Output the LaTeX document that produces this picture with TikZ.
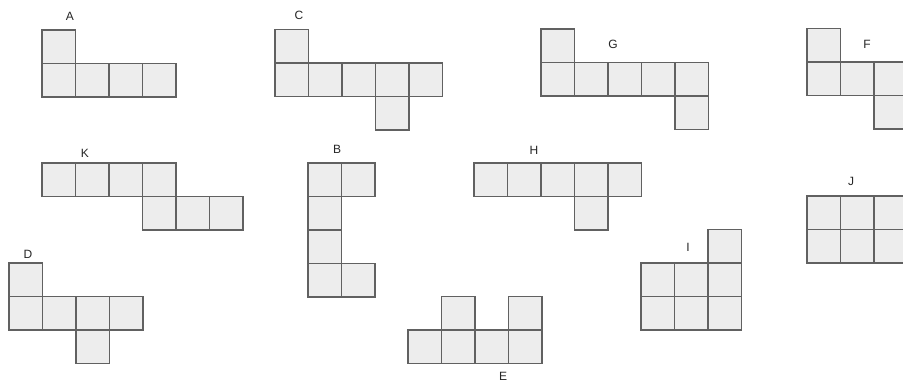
\documentclass[tikz,border=0pt]{standalone}
\usepackage{fontspec}
\setmainfont{Liberation Sans}
\tikzset{
  cell/.style={fill=black!7, draw=black!62, line width=0.85pt},
  lbl/.style={font=\fontsize{9}{10}\selectfont, text=black!85, inner sep=0pt}
}
\newcommand\cellsq[4]{\draw[cell] ({#1+#3*33.5},{#2+#4*33.5}) rectangle ++(33.5,33.5);}
\begin{document}
\begin{tikzpicture}[x=0.75pt,y=-0.75pt]
\useasboundingbox (0,0) rectangle (903,381);
\clip (0,0) rectangle (903,381);
\fill[white] (0,0) rectangle (903,381);
% A
\cellsq{42}{30}{0}{0}
\foreach \i in {0,...,3} {\cellsq{42}{30}{\i}{1}}
\node[lbl] (labA) at (70,16) {A};
% C
\cellsq{275}{29.5}{0}{0}
\foreach \i in {0,...,4} {\cellsq{275}{29.5}{\i}{1}}
\cellsq{275}{29.5}{3}{2}
\node[lbl] (labC) at (299,15) {C};
% G
\cellsq{541}{29}{0}{0}
\foreach \i in {0,...,4} {\cellsq{541}{29}{\i}{1}}
\cellsq{541}{29}{4}{2}
\node[lbl] (labG) at (613,44) {G};
% F
\cellsq{807}{28.5}{0}{0}
\foreach \i in {0,...,2} {\cellsq{807}{28.5}{\i}{1}}
\cellsq{807}{28.5}{2}{2}
\node[lbl] (labF) at (867,44) {F};
% K
\foreach \i in {0,...,3} {\cellsq{42}{163}{\i}{0}}
\foreach \i in {3,...,5} {\cellsq{42}{163}{\i}{1}}
\node[lbl] (labK) at (85,153) {K};
% D
\cellsq{9}{263}{0}{0}
\foreach \i in {0,...,3} {\cellsq{9}{263}{\i}{1}}
\cellsq{9}{263}{2}{2}
\node[lbl] (labD) at (28,254) {D};
% B
\cellsq{308}{163}{0}{0}
\cellsq{308}{163}{1}{0}
\cellsq{308}{163}{0}{1}
\cellsq{308}{163}{0}{2}
\cellsq{308}{163}{0}{3}
\cellsq{308}{163}{1}{3}
\node[lbl] (labB) at (337,149) {B};
% H
\foreach \i in {0,...,4} {\cellsq{474}{163}{\i}{0}}
\cellsq{474}{163}{3}{1}
\node[lbl] (labH) at (534,150) {H};
% E
\cellsq{408}{296.5}{1}{0}
\cellsq{408}{296.5}{3}{0}
\foreach \i in {0,...,3} {\cellsq{408}{296.5}{\i}{1}}
\node[lbl] (labE) at (503,376) {E};
% I
\cellsq{641}{229.5}{2}{0}
\foreach \i in {0,...,2} {\cellsq{641}{229.5}{\i}{1}\cellsq{641}{229.5}{\i}{2}}
\node[lbl] (labI) at (688,247) {I};
% J
\foreach \i in {0,...,2} {\cellsq{807}{196}{\i}{0}\cellsq{807}{196}{\i}{1}}
\node[lbl] (labJ) at (851,181) {J};
\end{tikzpicture}
\end{document}
